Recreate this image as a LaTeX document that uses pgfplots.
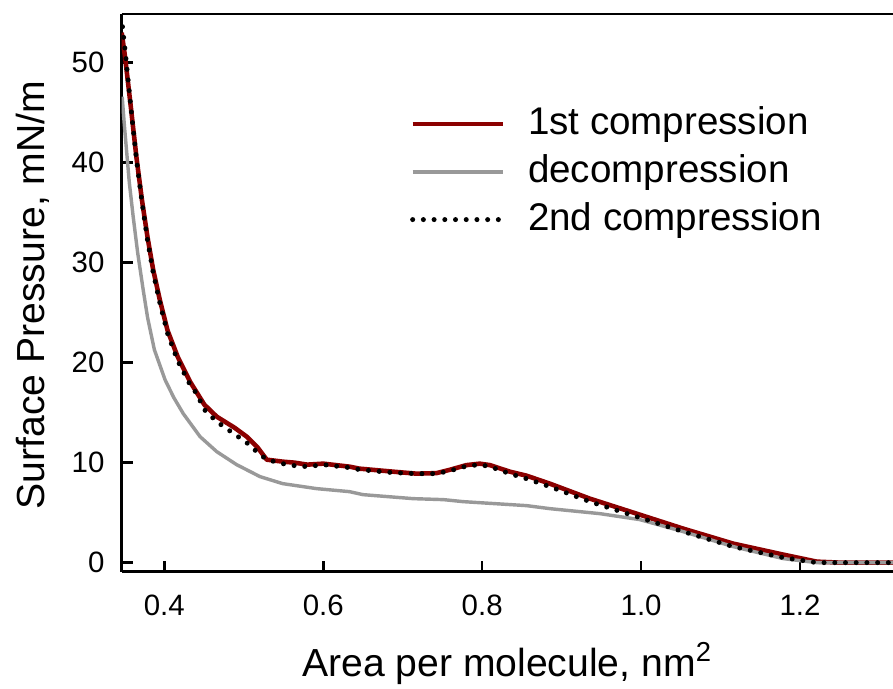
\documentclass[border=0pt]{standalone}
\usepackage{fontspec}
\setmainfont{Liberation Sans}
\usepackage{pgfplots}
\pgfplotsset{compat=1.18}
\definecolor{comp1}{HTML}{8B0000}
\definecolor{decomp}{HTML}{999999}

% isotherm data: area (nm^2), pressure (mN/m)
\begin{document}
\begin{tikzpicture}
\path[use as bounding box] (-42.6pt,-41.05pt) rectangle (270pt,200.1pt);
\begin{axis}[
  at={(0pt,0pt)}, anchor=south west,
  scale only axis, width=270pt, height=195.2pt,
  xmin=0.3464, xmax=1.317, ymin=-0.9, ymax=54.87,
  axis x line=box, axis y line=left,
  axis line style={-, line width=0.9pt},
  xtick pos=lower, ytick pos=left,
  tick align=inside, major tick length=3.8pt,
  tick style={line width=0.9pt, black},
  xtick={0.4,0.6,...,1.21}, ytick={0,10,...,50},
  xticklabel style={/pgf/number format/fixed, /pgf/number format/fixed zerofill,
    /pgf/number format/precision=1, yshift=-4.5pt},
  /pgf/number format/assume math mode=true,
  ticklabel style={font=\fontsize{10.3}{12}\selectfont},
  yticklabel style={xshift=-2.5pt},
  label style={font=\fontsize{13.7}{16}\selectfont},
  xlabel={Area per molecule, nm\textsuperscript{2}},
  ylabel={Surface Pressure, mN/m},
  xlabel style={at={(axis description cs:0.5,-0.164)}, anchor=center},
  ylabel style={at={(axis description cs:-0.115,0.496)}, anchor=center},
  legend cell align=left,
  legend style={at={(axis description cs:0.374,0.837)}, anchor=north west,
    draw=none, fill=none, inner sep=0pt, outer sep=0pt,
    font=\fontsize{13.5}{16}\selectfont, row sep=3.2pt,
    nodes={inner sep=0pt, text height=10.5pt, text depth=3pt}},
  legend image code/.code={\draw[#1] (0pt,0pt) -- (31.5pt,0pt); \path (39.5pt,0pt);},
]
\addplot[comp1, line width=1.6pt, line join=round] coordinates {
(0.3464,53.0) (0.3506,50.6) (0.3580,45.5) (0.3650,40.5) (0.3720,36.2)
(0.3790,32.5) (0.3860,29.3) (0.3946,26.2) (0.4042,23.2) (0.4168,20.6)
(0.4324,18.1) (0.4504,15.8) (0.4660,14.6) (0.4883,13.5)
(0.5037,12.6) (0.5176,11.5) (0.5289,10.3) (0.5490,10.1) (0.5638,10.0)
(0.5800,9.8) (0.6000,9.9) (0.6330,9.6) (0.6457,9.4) (0.6877,9.1)
(0.7171,8.9) (0.7424,8.95) (0.7600,9.3) (0.7800,9.75) (0.7970,9.9)
(0.8100,9.75) (0.8347,9.1) (0.8557,8.7) (0.8851,7.9) (0.9355,6.4)
(0.9943,4.9) (1.0530,3.4) (1.1160,1.9) (1.1790,0.8) (1.2210,0.1)
(1.2500,0.0) (1.3170,0.0)
};
\addlegendentry{1st compression}
\addplot[decomp, line width=1.2pt, line join=round] coordinates {
(0.3470,46.6) (0.3497,43.8) (0.3560,38.0) (0.3610,34.5) (0.3665,31.0)
(0.3736,27.2) (0.3790,24.5) (0.3875,21.3) (0.4009,18.3) (0.4120,16.5)
(0.4239,14.9) (0.4450,12.6) (0.4660,11.1) (0.4910,9.8) (0.5205,8.6)
(0.5490,7.9) (0.5918,7.4) (0.6330,7.1) (0.6500,6.8) (0.7130,6.4)
(0.7515,6.3) (0.7760,6.1) (0.8560,5.7) (0.8851,5.4) (0.9480,4.9)
(0.9985,4.3) (1.0530,3.1) (1.1160,1.6) (1.1790,0.4) (1.2210,0.0)
(1.3170,0.0)
};
\addlegendentry{decompression}
\addplot[black, line width=1.75pt, line cap=round, dash pattern=on 0pt off 3.75pt] coordinates {
(0.3474,53.6) (0.3518,50.4) (0.3580,45.5) (0.3650,40.3) (0.3720,36.0)
(0.3790,32.2) (0.3860,29.0) (0.3946,25.9) (0.4042,22.9) (0.4168,20.2)
(0.4324,17.8) (0.4408,16.9) (0.4504,15.3) (0.4660,14.1)
(0.4785,13.4) (0.5037,12.0) (0.5163,11.1) (0.5289,10.3) (0.5490,9.9)
(0.5638,9.7) (0.5800,9.6) (0.6000,9.8) (0.6330,9.5) (0.6457,9.3)
(0.6877,9.0) (0.7171,8.9) (0.7424,8.9) (0.7600,9.2) (0.7800,9.65)
(0.7970,9.8) (0.8100,9.6) (0.8347,8.9) (0.8557,8.4) (0.8851,7.6)
(0.9355,6.1) (0.9943,4.6) (1.0530,3.1) (1.1160,1.6) (1.1790,0.5)
(1.2210,0.0) (1.2500,0.0) (1.3170,0.0)
};
\addlegendentry{2nd compression}
\end{axis}
\end{tikzpicture}
\end{document}
